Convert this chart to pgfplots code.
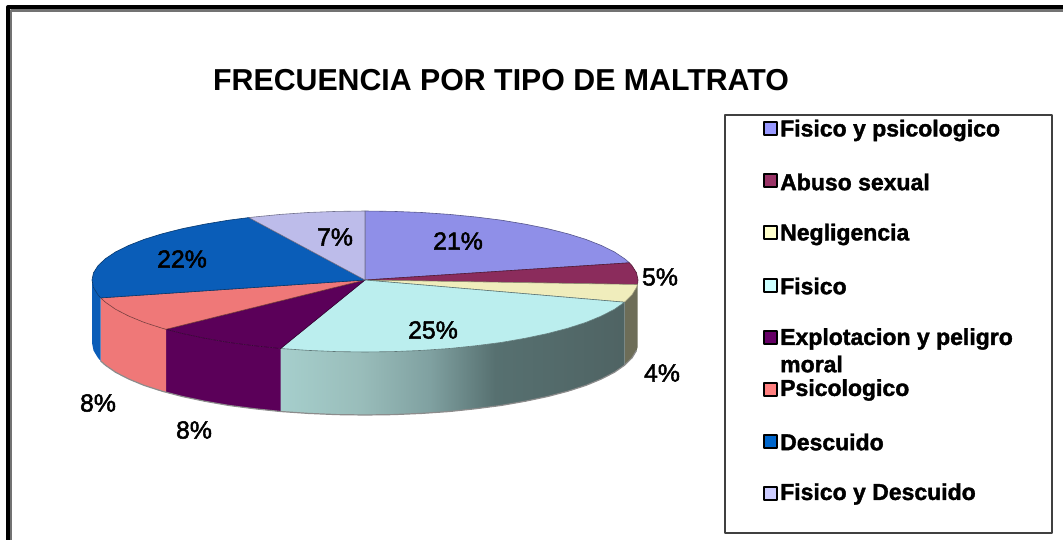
\documentclass[border=0pt]{standalone}
\usepackage{pgfplots}
\pgfplotsset{compat=1.18}
\usepackage{fontspec}
\setmainfont{Liberation Sans}
\newfontfamily\heavy[FakeBold=2]{Liberation Sans}
\newfontfamily\heavybold[BoldFeatures={FakeBold=1.6}]{Liberation Sans}
\definecolor{cA}{HTML}{8F8FE8}
\definecolor{cB}{HTML}{8B2C5C}
\definecolor{cC}{HTML}{F0EDBC}
\definecolor{cD}{HTML}{BBEEEE}
\definecolor{cE}{HTML}{5B0059}
\definecolor{cF}{HTML}{EF7878}
\definecolor{cG}{HTML}{0A5DB8}
\definecolor{cH}{HTML}{BDBCEA}
\definecolor{sC}{HTML}{6D6D58}
\definecolor{lA}{HTML}{9999FF}
\definecolor{lB}{HTML}{993366}
\definecolor{lC}{HTML}{FFFFCC}
\definecolor{lD}{HTML}{CCFFFF}
\definecolor{lE}{HTML}{660066}
\definecolor{lF}{HTML}{FF8080}
\definecolor{lG}{HTML}{0066CC}
\definecolor{lH}{HTML}{CCCCFF}
\pgfdeclarehorizontalshading{wall}{100bp}{rgb(0bp)=(.65,.81,.80); rgb(25bp)=(.65,.81,.80); rgb(36.6bp)=(.60,.74,.73); rgb(46.7bp)=(.50,.63,.63); rgb(56.2bp)=(.34,.44,.44); rgb(75bp)=(.31,.39,.39); rgb(100bp)=(.31,.39,.39)}
\begin{document}
\begin{tikzpicture}
\path[use as bounding box] (0,0) rectangle (1063pt,540pt);
\begin{axis}[
  at={(0,0)}, anchor=south west,
  scale only axis, width=1063pt, height=540pt,
  xmin=0, xmax=1063, ymin=0, ymax=540, y dir=reverse,
  hide axis, clip=true,
  every axis plot/.append style={line join=round},
]
% outer frame
\addplot[draw=black!55, line width=2.5pt] coordinates {(11,545) (11,10.5) (1070,10.5)};
\addplot[draw=black, line width=4pt] coordinates {(8,545) (8,7) (1070,7)};
% side walls
\addplot[draw=none, fill=sC] coordinates {(637.5,284.5) (636.5,287.5) (632,294.9) (624.6,302.2) (624.6,365.2) (632,357.9) (636.5,350.5) (637.5,347.5)} --cycle;
\addplot[draw=none, shade, shading=wall] coordinates {(624.6,302.2) (614.4,309.3) (601.4,316) (585.9,322.4) (567.9,328.2) (547.7,333.5) (525.5,338.2) (501.5,342.4) (476,345.7) (449.4,348.5) (421.8,350.4) (393.5,351.6) (365,352) (336.5,351.6) (308.2,350.4) (280.6,348.5) (280.6,411.5) (308.2,413.4) (336.5,414.6) (365,415) (393.5,414.6) (421.8,413.4) (449.4,411.5) (476,408.7) (501.5,405.4) (525.5,401.2) (547.7,396.5) (567.9,391.2) (585.9,385.4) (601.4,379) (614.4,372.3) (624.6,365.2)} --cycle;
\addplot[draw=none, fill=cE] coordinates {(280.6,348.5) (254,345.7) (228.5,342.4) (204.5,338.2) (182.3,333.5) (166,329.3) (166,392.3) (182.3,396.5) (204.5,401.2) (228.5,405.4) (254,408.7) (280.6,411.5)} --cycle;
\addplot[draw=none, fill=cF] coordinates {(166,329.3) (162.1,328.2) (144.1,322.4) (128.6,316) (115.6,309.3) (105.4,302.2) (100.6,297.9) (100.6,360.9) (105.4,365.2) (115.6,372.3) (128.6,379) (144.1,385.4) (162.1,391.2) (166,392.3)} --cycle;
\addplot[draw=none, fill=cG] coordinates {(100.6,297.9) (98,294.9) (93.5,287.5) (92,280) (92,343) (93.5,350.5) (98,357.9) (100.6,360.9)} --cycle;
% soft lower rim of the wall
\addplot[draw=black!45, line width=1.2pt] coordinates {(100.6,360.9) (105.4,365.2) (115.6,372.3) (128.6,379) (144.1,385.4) (162.1,391.2) (182.3,396.5) (204.5,401.2) (228.5,405.4) (254,408.7) (280.6,411.5) (308.2,413.4) (336.5,414.6) (365,415) (393.5,414.6) (421.8,413.4) (449.4,411.5) (476,408.7) (501.5,405.4) (525.5,401.2) (547.7,396.5) (567.9,391.2) (585.9,385.4) (601.4,379) (614.4,372.3) (624.6,365.2) (632,357.9) (636.5,350.5)};
% top slices
\addplot[draw=cA!60!black, line width=.6pt, fill=cA] coordinates {(365,280) (365,211) (393.5,211.4) (421.8,212.5) (449.4,214.4) (476,217) (501.5,220.2) (525.5,224.2) (547.7,228.7) (567.9,233.8) (585.9,239.4) (601.4,245.5) (614.4,251.9) (624.6,258.7) (629.4,262.8)} --cycle;
\addplot[draw=cB!60!black, line width=.6pt, fill=cB] coordinates {(365,280) (629.4,262.8) (632,265.7) (636.5,272.8) (638,280) (637.5,284.5)} --cycle;
\addplot[draw=cC!60!black, line width=.6pt, fill=cC] coordinates {(365,280) (637.5,284.5) (636.5,287.5) (632,294.9) (624.6,302.2)} --cycle;
\addplot[draw=cD!50!black, line width=.6pt, fill=cD] coordinates {(365,280) (624.6,302.2) (614.4,309.3) (601.4,316) (585.9,322.4) (567.9,328.2) (547.7,333.5) (525.5,338.2) (501.5,342.4) (476,345.7) (449.4,348.5) (421.8,350.4) (393.5,351.6) (365,352) (336.5,351.6) (308.2,350.4) (280.6,348.5)} --cycle;
\addplot[draw=cE!60!black, line width=.6pt, fill=cE] coordinates {(365,280) (280.6,348.5) (254,345.7) (228.5,342.4) (204.5,338.2) (182.3,333.5) (166,329.3)} --cycle;
\addplot[draw=cF!50!black, line width=.6pt, fill=cF] coordinates {(365,280) (166,329.3) (162.1,328.2) (144.1,322.4) (128.6,316) (115.6,309.3) (105.4,302.2) (100.6,297.9)} --cycle;
\addplot[draw=cG!60!black, line width=.6pt, fill=cG] coordinates {(365,280) (100.6,297.9) (98,294.9) (93.5,287.5) (92,280) (93.5,272.8) (98,265.7) (105.4,258.7) (115.6,251.9) (128.6,245.5) (144.1,239.4) (162.1,233.8) (182.3,228.7) (204.5,224.2) (228.5,220.2) (248.8,217.6)} --cycle;
\addplot[draw=cH!60!black, line width=.6pt, fill=cH] coordinates {(365,280) (248.8,217.6) (254,217) (280.6,214.4) (308.2,212.5) (336.5,211.4) (365,211)} --cycle;
% legend box
\addplot[draw=black!75, line width=2pt] coordinates {(725,115) (1052,115) (1052,533) (725,533)} --cycle;
% legend swatches
\addplot[draw=black, line width=2pt, fill=lA] coordinates {(764,122) (777,122) (777,135) (764,135)} --cycle;
\addplot[draw=black, line width=2pt, fill=lB] coordinates {(764,174.5) (777,174.5) (777,187.5) (764,187.5)} --cycle;
\addplot[draw=black, line width=2pt, fill=lC] coordinates {(764,226.5) (777,226.5) (777,239.5) (764,239.5)} --cycle;
\addplot[draw=black, line width=2pt, fill=lD] coordinates {(764,278.5) (777,278.5) (777,291.5) (764,291.5)} --cycle;
\addplot[draw=black, line width=2pt, fill=lE] coordinates {(764,330.5) (777,330.5) (777,343.5) (764,343.5)} --cycle;
\addplot[draw=black, line width=2pt, fill=lF] coordinates {(764,382.5) (777,382.5) (777,395.5) (764,395.5)} --cycle;
\addplot[draw=black, line width=2pt, fill=lG] coordinates {(764,434.5) (777,434.5) (777,447.5) (764,447.5)} --cycle;
\addplot[draw=black, line width=2pt, fill=lH] coordinates {(764,486.5) (777,486.5) (777,499.5) (764,499.5)} --cycle;
% legend text
\begin{scope}[every node/.style={anchor=west, inner sep=0pt, font=\heavybold\fontsize{23}{25}\selectfont\bfseries}]
\node at (axis cs:780,130.5) {Fisico y psicologico};
\node at (axis cs:780,182) {Abuso sexual};
\node at (axis cs:780,234.5) {Negligencia};
\node at (axis cs:780,286) {Fisico};
\node at (axis cs:780,339) {Explotacion y peligro};
\node at (axis cs:780,364) {moral};
\node at (axis cs:780,390) {Psicologico};
\node at (axis cs:780,442) {Descuido};
\node at (axis cs:780,494) {Fisico y Descuido};
\end{scope}
% title
\node[inner sep=0pt, font=\fontsize{30.3}{32}\selectfont\bfseries] at (axis cs:501,80) {FRECUENCIA POR TIPO DE MALTRATO};
% data labels
\begin{scope}[every node/.style={inner sep=0pt, font=\heavy\fontsize{24.8}{28}\selectfont}]
\node at (axis cs:458,241) {21\%};
\node at (axis cs:660,277) {5\%};
\node at (axis cs:662,373) {4\%};
\node at (axis cs:433,330) {25\%};
\node at (axis cs:98,403) {8\%};
\node at (axis cs:194,430) {8\%};
\node at (axis cs:182,259) {22\%};
\node at (axis cs:335,237) {7\%};
\end{scope}
\end{axis}
\end{tikzpicture}
\end{document}
